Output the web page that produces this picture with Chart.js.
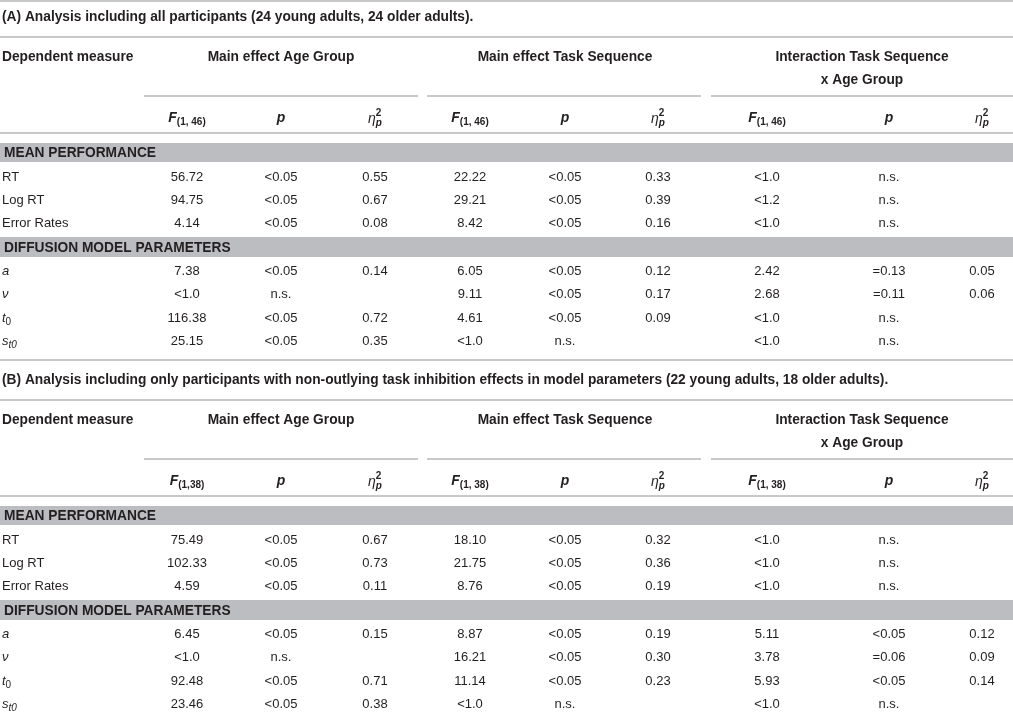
<!DOCTYPE html>
<html>
<head>
<meta charset="utf-8">
<script src="https://cdn.jsdelivr.net/npm/chart.js@4.4.1/dist/chart.umd.min.js"></script>
<style>
  html, body { margin: 0; padding: 0; background: #fff; }
  canvas { display: block; }
</style>
</head>
<body>
<canvas id="table" width="1013" height="712"></canvas>
<script>
// ---- table content ----
const panelTitles = [
    '(A) Analysis including all participants (24 young adults, 24 older adults).',
    '(B) Analysis including only participants with non-outlying task inhibition effects in model parameters (22 young adults, 18 older adults).'
];
const firstHeader = 'Dependent measure';
const groupHeaders = ['Main effect Age Group', 'Main effect Task Sequence', 'Interaction Task Sequence'];
const groupSubline = 'x Age Group';
const statHeaders = ['F', 'p', 'eta', 'F', 'p', 'eta', 'F', 'p', 'eta'];
const dfA = ['1, 46', '1, 46', '1, 46'];
const dfB = ['1,38', '1, 38', '1, 38'];
const sectionLabels = ['MEAN PERFORMANCE', 'DIFFUSION MODEL PARAMETERS'];
const measureLabels = ['RT', 'Log RT', 'Error Rates', 'a', 'ν', 't0', 'st0'];

// (A) all participants
const ageF_A   = ['56.72', '94.75', '4.14', '7.38', '<1.0', '116.38', '25.15'];
const ageP_A   = ['<0.05', '<0.05', '<0.05', '<0.05', 'n.s.', '<0.05', '<0.05'];
const ageEta_A = ['0.55', '0.67', '0.08', '0.14', '', '0.72', '0.35'];
const seqF_A   = ['22.22', '29.21', '8.42', '6.05', '9.11', '4.61', '<1.0'];
const seqP_A   = ['<0.05', '<0.05', '<0.05', '<0.05', '<0.05', '<0.05', 'n.s.'];
const seqEta_A = ['0.33', '0.39', '0.16', '0.12', '0.17', '0.09', ''];
const intF_A   = ['<1.0', '<1.2', '<1.0', '2.42', '2.68', '<1.0', '<1.0'];
const intP_A   = ['n.s.', 'n.s.', 'n.s.', '=0.13', '=0.11', 'n.s.', 'n.s.'];
const intEta_A = ['', '', '', '0.05', '0.06', '', ''];

// (B) non-outlying participants only
const ageF_B   = ['75.49', '102.33', '4.59', '6.45', '<1.0', '92.48', '23.46'];
const ageP_B   = ['<0.05', '<0.05', '<0.05', '<0.05', 'n.s.', '<0.05', '<0.05'];
const ageEta_B = ['0.67', '0.73', '0.11', '0.15', '', '0.71', '0.38'];
const seqF_B   = ['18.10', '21.75', '8.76', '8.87', '16.21', '11.14', '<1.0'];
const seqP_B   = ['<0.05', '<0.05', '<0.05', '<0.05', '<0.05', '<0.05', 'n.s.'];
const seqEta_B = ['0.32', '0.36', '0.19', '0.19', '0.30', '0.23', ''];
const intF_B   = ['<1.0', '<1.0', '<1.0', '5.11', '3.78', '5.93', '<1.0'];
const intP_B   = ['n.s.', 'n.s.', 'n.s.', '<0.05', '=0.06', '<0.05', 'n.s.'];
const intEta_B = ['', '', '', '0.12', '0.09', '0.14', ''];

const panels = [
    { title: panelTitles[0], df: dfA,
      cols: [ageF_A, ageP_A, ageEta_A, seqF_A, seqP_A, seqEta_A, intF_A, intP_A, intEta_A] },
    { title: panelTitles[1], df: dfB,
      cols: [ageF_B, ageP_B, ageEta_B, seqF_B, seqP_B, seqEta_B, intF_B, intP_B, intEta_B] }
];

// ---- layout (page units, mapped through the chart's x / y scales) ----
const colX = [187, 281, 375, 470, 565, 658, 767, 889, 982];
const groupX = [281, 565, 862];
const groupSpan = [[144, 418], [427, 701], [711, 1013]];
const panelShift = [0, 363];
const rowY = [177, 200, 223, 271, 294, 318, 341];
const bandY = [[143, 162], [237, 257]];
const titleY = 17, headY = 57, head2Y = 80, subRuleY = 96, statY = 118;
const panelRules = [37, 133];
const outerRules = [1, 360];

const FAM = '"Liberation Sans", Arial, Helvetica, sans-serif';
const INK = '#231f20';
const RULE = '#c9c9ca';
const BAND = '#bcbdc0';

// turn a cell into styled runs of text
function runsFor(kind, t, extra) {
    const reg = '13px ' + FAM, ital = 'italic 13px ' + FAM;
    const bold = 'bold 13.75px ' + FAM;
    if (kind === 'stat') {
        if (t === 'F') return [{ text: 'F', font: 'italic bold 14px ' + FAM },
                               { text: '(' + extra + ')', font: 'bold 10px ' + FAM, dy: 4 }];
        if (t === 'p') return [{ text: 'p', font: 'italic bold 14px ' + FAM }];
        return [{ text: 'η', font: 'italic 14px ' + FAM, dy: 1 },
                { stack: [{ text: '2', font: 'bold 10px ' + FAM, dy: -5 },
                          { text: 'p', font: 'italic bold 10px ' + FAM, dy: 5 }] }];
    }
    if (kind === 'measure') {
        if (t === 'a' || t === 'ν') return [{ text: t, font: ital }];
        if (t === 't0') return [{ text: 't', font: ital }, { text: '0', font: '10px ' + FAM, dy: 4 }];
        if (t === 'st0') return [{ text: 's', font: ital }, { text: 't0', font: 'italic 10px ' + FAM, dy: 4 }];
        return [{ text: t, font: reg }];
    }
    if (kind === 'bold') return [{ text: t, font: bold }];
    return [{ text: t, font: reg }];
}

function drawRuns(ctx, runs, x, y, align) {
    let w = 0;
    runs.forEach(r => {
        if (r.stack) {
            r.w = Math.max(...r.stack.map(s => { ctx.font = s.font; return ctx.measureText(s.text).width; }));
        } else {
            ctx.font = r.font;
            r.w = ctx.measureText(r.text).width;
        }
        w += r.w;
    });
    let cx = align === 'center' ? x - w / 2 : x;
    runs.forEach(r => {
        if (r.stack) {
            r.stack.forEach(s => { ctx.font = s.font; ctx.fillText(s.text, cx, y + s.dy); });
        } else {
            ctx.font = r.font;
            ctx.fillText(r.text, cx, y + (r.dy || 0));
        }
        cx += r.w;
    });
}

// ---- build the point set: every text cell is one invisible point ----
const cells = [];
panels.forEach((pn, pi) => {
    const s = panelShift[pi];
    cells.push({ x: 2, y: titleY + s, t: pn.title, kind: 'bold', align: 'left' });
    cells.push({ x: 2, y: headY + s, t: firstHeader, kind: 'bold', align: 'left' });
    groupHeaders.forEach((g, gi) => cells.push({ x: groupX[gi], y: headY + s, t: g, kind: 'bold', align: 'center' }));
    cells.push({ x: groupX[2], y: head2Y + s, t: groupSubline, kind: 'bold', align: 'center' });
    statHeaders.forEach((h, ci) => cells.push({ x: colX[ci], y: statY + s, t: h, kind: 'stat',
        extra: pn.df[Math.floor(ci / 3)], align: 'center' }));
    sectionLabels.forEach((lab, bi) => cells.push({ x: 4, y: (bandY[bi][0] + bandY[bi][1]) / 2 + s + 1,
        t: lab, kind: 'bold', align: 'left' }));
    measureLabels.forEach((m, ri) => cells.push({ x: 2, y: rowY[ri] + s, t: m, kind: 'measure', align: 'left' }));
    pn.cols.forEach((col, ci) => col.forEach((v, ri) => {
        if (v !== '') cells.push({ x: colX[ci], y: rowY[ri] + s, t: v, kind: 'num', align: 'center' });
    }));
});

const gridPlugin = {
    id: 'tableGrid',
    beforeDatasetsDraw(chart) {
        const { ctx, scales: { x, y } } = chart;
        const x0 = x.getPixelForValue(0), x1 = x.getPixelForValue(1013);
        ctx.save();
        ctx.fillStyle = BAND;
        panelShift.forEach(s => bandY.forEach(b => {
            const top = y.getPixelForValue(b[0] + s), bot = y.getPixelForValue(b[1] + s);
            ctx.fillRect(x0, top, x1 - x0, bot - top);
        }));
        ctx.strokeStyle = RULE;
        ctx.lineWidth = 2;
        const hline = (yy, a, b) => {
            ctx.beginPath();
            ctx.moveTo(x.getPixelForValue(a), y.getPixelForValue(yy));
            ctx.lineTo(x.getPixelForValue(b), y.getPixelForValue(yy));
            ctx.stroke();
        };
        outerRules.forEach(r => hline(r, 0, 1013));
        panelShift.forEach(s => {
            panelRules.forEach(r => hline(r + s, 0, 1013));
            groupSpan.forEach(g => hline(subRuleY + s, g[0], g[1]));
        });
        ctx.restore();
    },
    afterDatasetsDraw(chart) {
        const ctx = chart.ctx;
        ctx.save();
        ctx.fillStyle = INK;
        ctx.textBaseline = 'middle';
        ctx.textAlign = 'left';
        chart.data.datasets.forEach((ds, di) => {
            chart.getDatasetMeta(di).data.forEach((el, i) => {
                const c = ds.data[i];
                drawRuns(ctx, runsFor(c.kind, c.t, c.extra), el.x, el.y, c.align);
            });
        });
        ctx.restore();
    }
};

new Chart(document.getElementById('table'), {
    type: 'scatter',
    data: { datasets: [{ data: cells, pointRadius: 0, pointHoverRadius: 0 }] },
    options: {
        responsive: false,
        animation: false,
        events: [],
        layout: { padding: 0 },
        scales: {
            x: { type: 'linear', min: 0, max: 1013, display: false },
            y: { type: 'linear', min: 0, max: 712, reverse: true, display: false }
        },
        plugins: { legend: { display: false }, tooltip: { enabled: false } }
    },
    plugins: [gridPlugin]
});
</script>
</body>
</html>
